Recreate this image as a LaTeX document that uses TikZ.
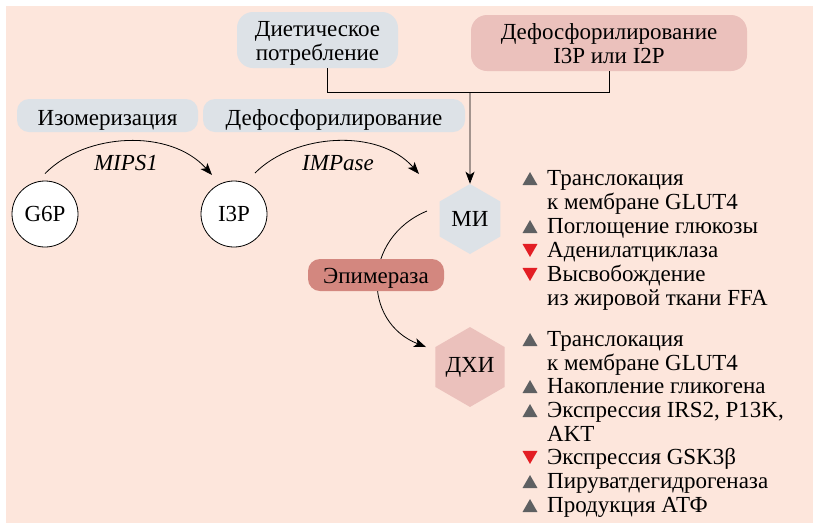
\documentclass[tikz,border=0pt]{standalone}
\usepackage{fontspec}
\setmainfont{Liberation Serif}
\usetikzlibrary{arrows.meta,shapes.geometric}
\definecolor{peach}{HTML}{FDE6DC}
\definecolor{greyblue}{HTML}{DDE2E7}
\definecolor{rosebox}{HTML}{EBC1BC}
\definecolor{epicol}{HTML}{D3877F}
\definecolor{trigrey}{HTML}{5E6062}
\definecolor{trired}{HTML}{E31E24}
\tikzset{
  box/.style={rounded corners=12pt, inner sep=0pt, align=center, text height=19pt, text depth=0pt},
  bigbox/.style={box, rounded corners=16pt, minimum height=56pt, text height=40pt},
  met/.style={circle, draw, fill=white, line width=0.8pt, minimum size=66pt, inner sep=0pt},
  hexa/.style={regular polygon, regular polygon sides=6, shape border rotate=30, minimum size=70pt, inner sep=0pt},
  item/.style={anchor=base west, align=left, inner sep=0pt},
  uptri/.style={regular polygon, regular polygon sides=3, fill=trigrey, minimum size=17.3pt, inner sep=0pt},
  dntri/.style={uptri, fill=trired, shape border rotate=180},
  arr/.style={line width=0.8pt, -{Stealth[length=12pt,width=9pt,inset=3pt]}},
}

\begin{document}
\begin{tikzpicture}[x=1pt,y=-1pt,font=\fontsize{23}{23.5}\selectfont]
  \fill[white] (0,0) rectangle (813,523);
  \fill[peach] (6,6) rectangle (813,523);
  \useasboundingbox (0,0) rectangle (813,523);

  % sources
  \node[bigbox, fill=greyblue, minimum width=161pt] (diet) at (317.5,40) {Диетическое\\потребление};
  \node[bigbox, fill=rosebox, minimum width=276pt] (dephos) at (609,43) {Дефосфорилирование\\I3P или I2P};
  \node[box, fill=greyblue, minimum width=181pt, minimum height=33pt] (isom) at (107.5,115.5) {Изомеризация};
  \node[box, fill=greyblue, minimum width=262pt, minimum height=33pt] (dephos2) at (334,115.5) {Дефосфорилирование};

  \node[met] (g6p) at (45,214) {G6P};
  \node[met] (i3p) at (234,214) {I3P};
  \node[hexa, fill=greyblue] (mi) at (470,219) {МИ};
  \node[hexa, fill=rosebox] (dxi) at (470,367) {ДХИ};

  \coordinate (join) at (470,92);
  \coordinate (impend) at (419,174);
  \draw[line width=0.8pt] ([xshift=10pt]diet.south) |- (dephos.south |- join) -- (dephos.south);
  \draw[arr] (join) -- (mi.north);

  \draw[arr] ([yshift=7pt]g6p.north) .. controls +(40,-41) and +(-42,-47) .. ([shift={(-22,-39)}]i3p.center);
  \draw[arr] ([shift={(21,-41)}]i3p.center) .. controls +(40,-40) and +(-40,-46) .. (impend);
  \node[anchor=base, font=\fontsize{23}{23.5}\selectfont\itshape] (mips) at (126,170) {MIPS1};
  \node[anchor=base, font=\fontsize{23}{23.5}\selectfont\itshape] (impase) at (338,170) {IMPase};

  \draw[arr] ([shift={(-43,-8)}]mi.center) .. controls +(-65,27) and +(-64,-25) .. ([shift={(-44,-20)}]dxi.center);
  \node[box, fill=epicol, minimum width=136pt, minimum height=32pt, text height=16pt] (epi) at (376,275) {Эпимераза};

  % effects of MI
  \node[item] (mi1) at (547,209) {Транслокация\\к мембране GLUT4};
  \node[item] (mi2) at (547,233) {Поглощение глюкозы};
  \node[item] (mi3) at (547,257) {Аденилатциклаза};
  \node[item] (mi4) at (547,305) {Высвобождение\\из жировой ткани FFA};

  % effects of DCI
  \node[item] (dx1) at (547,370) {Транслокация\\к мембране GLUT4};
  \node[item] (dx2) at (547,393) {Накопление гликогена};
  \node[item] (dx3) at (547,441) {Экспрессия IRS2, P13K,\\AKT};
  \node[item] (dx4) at (547,464) {Экспрессия GSK3β};
  \node[item] (dx5) at (547,488) {Пируватдегидрогеназа};
  \node[item] (dx6) at (547,512) {Продукция АТФ};

  \foreach \y in {185,233,346,393,417,488,512}
    \node[uptri] (up\y) at (530,\y-4.3) {};
  \foreach \y in {257,281,464}
    \node[dntri] (dn\y) at (530,\y-8.7) {};
\end{tikzpicture}
\end{document}
